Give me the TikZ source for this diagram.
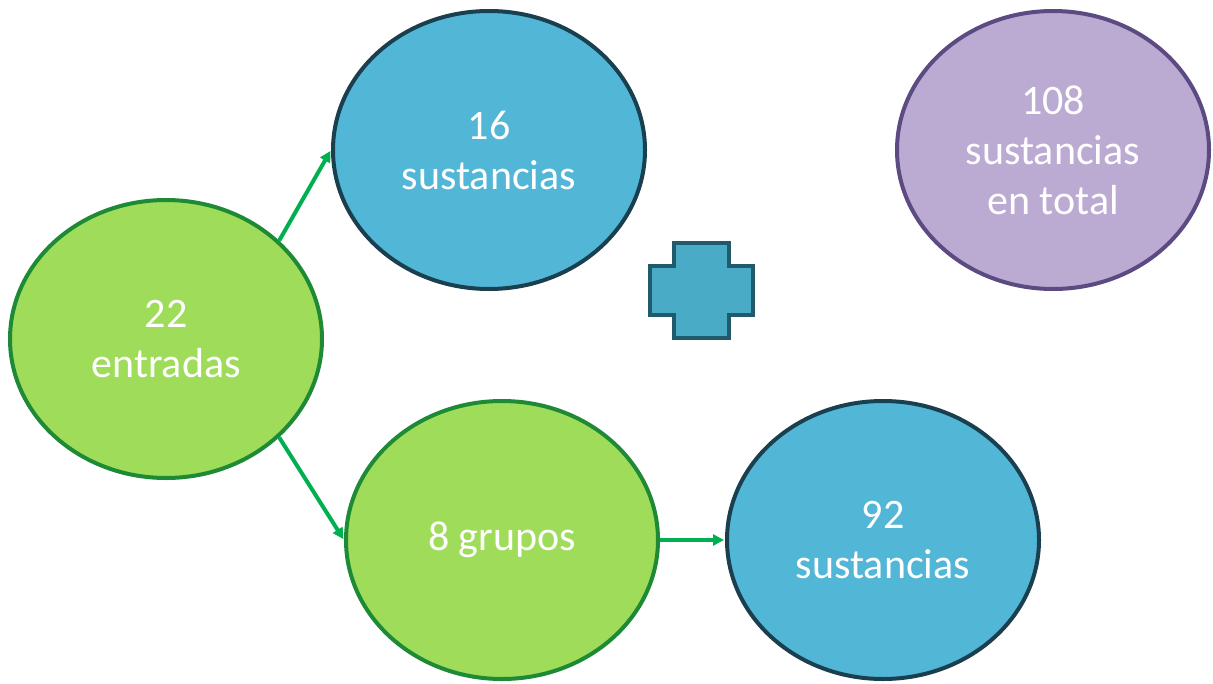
\documentclass[tikz,border=0pt]{standalone}
\usepackage{fontspec}
\setmainfont{Carlito}
\usetikzlibrary{shapes.geometric,arrows.meta}
\definecolor{gfill}{HTML}{9EDC5A}
\definecolor{gline}{HTML}{1E8A36}
\definecolor{bfill}{HTML}{52B6D7}
\definecolor{bline}{HTML}{1A3F4E}
\definecolor{pfill}{HTML}{BBABD3}
\definecolor{pline}{HTML}{5C4A82}
\definecolor{arr}{HTML}{00B050}
\definecolor{crossfill}{HTML}{4AABC6}
\definecolor{crossline}{HTML}{215A6A}
\tikzset{
  bubble/.style={ellipse, minimum width=312pt, minimum height=278pt, inner sep=0pt,
    line width=4pt, text=white, align=center,
    font=\fontsize{42}{50}\selectfont},
  greenb/.style={bubble, fill=gfill, draw=gline},
  blueb/.style={bubble, fill=bfill, draw=bline},
  purpleb/.style={bubble, fill=pfill, draw=pline},
  conn/.style={draw=arr, line width=4pt, -{Triangle[length=11pt,width=11pt]}, shorten >=1pt}
}
\begin{document}
\begin{tikzpicture}[x=1pt,y=-1pt]
\useasboundingbox (0,0) rectangle (1213,683);
\node[greenb] (A) at (166,339) {22\\entradas};
\node[blueb] (B) at (489,150) {16\\sustancias};
\node[purpleb] (C) at (1053,150) {108\\sustancias\\en total};
\node[greenb] (D) at (502,540) {8 grupos};
\node[blueb] (E) at (883,540) {92\\sustancias};
\draw[fill=crossfill, draw=crossline, line width=4.5pt]
  (674,243) -- (729,243) -- (729,266) -- (753,266) -- (753,315) -- (729,315)
  -- (729,338) -- (674,338) -- (674,315) -- (650,315) -- (650,266) -- (674,266) -- cycle;
\draw[conn] (A.41) -- (B.west);
\draw[conn] (A.-41) -- (D.west);
\draw[conn] (D.east) -- (E.west);
\end{tikzpicture}
\end{document}
